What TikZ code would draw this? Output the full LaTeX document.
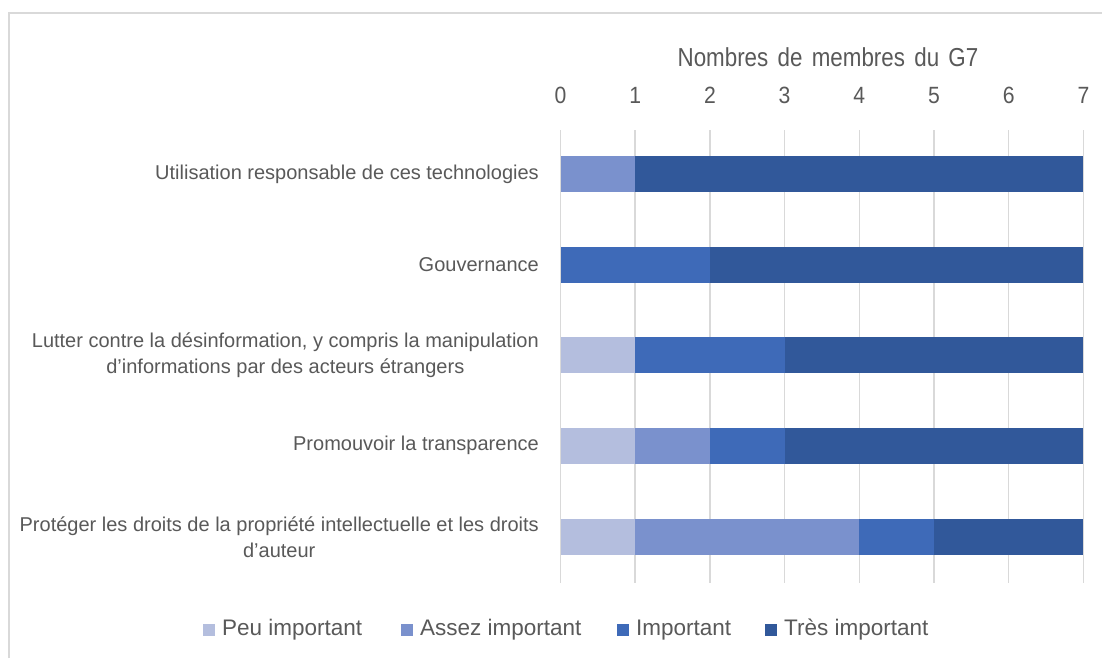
\documentclass[tikz,border=0pt]{standalone}
\usepackage{fontspec}
\setmainfont{Liberation Sans}
\newfontfamily\titlefont[FakeStretch=0.86,WordSpace=1.5]{Liberation Sans}
\newfontfamily\tickfont[FakeStretch=0.9]{Liberation Sans}
\definecolor{txt}{HTML}{595959}
\definecolor{grid}{HTML}{D9D9D9}
\definecolor{cpeu}{HTML}{B4BEDE}
\definecolor{cassez}{HTML}{7A91CD}
\definecolor{cimp}{HTML}{3E6AB8}
\definecolor{ctres}{HTML}{31589A}
\begin{document}
\begin{tikzpicture}[x=1pt,y=-1pt,
  catlabel/.style={anchor=east,align=center,text=txt,inner sep=0pt,
    font=\fontsize{20}{25.5}\selectfont},
  ticklabel/.style={anchor=base,text=txt,inner sep=0pt,font=\tickfont\fontsize{23.5}{27}\selectfont},
  legtext/.style={anchor=west,text=txt,inner sep=0pt,font=\fontsize{22.5}{27}\selectfont},
  gridline/.style={draw=grid,line width=1.5pt}]
\useasboundingbox (0,0) rectangle (1102,658);
\fill[white] (0,0) rectangle (1102,658);
% frame
\draw[draw=grid,line width=1.6pt] (9,658) -- (9,13) -- (1102,13);
% axis title
\node[text=txt,inner sep=0pt,font=\titlefont\fontsize{26}{30}\selectfont] (title) at (828,57) {Nombres de membres du G7};
% gridlines and tick labels
\def\xo{560.5}\def\ux{74.7}
\foreach \i in {0,...,7}{
  \draw[gridline] ({\xo+\i*\ux},130) -- ({\xo+\i*\ux},583);
  \node[ticklabel] (tick\i) at ({\xo+\i*\ux},103.3) {\i};
}
% bars: \drawseg{center y}{start}{end}{colour}
\newcommand{\drawseg}[4]{\fill[#4] ({\xo+#2*\ux},{#1-18}) rectangle ({\xo+#3*\ux},{#1+18});}
% 1
\drawseg{173.7}{0}{1}{cassez}
\drawseg{173.7}{1}{7}{ctres}
% 2
\drawseg{264.5}{0}{2}{cimp}
\drawseg{264.5}{2}{7}{ctres}
% 3
\drawseg{355}{0}{1}{cpeu}
\drawseg{355}{1}{3}{cimp}
\drawseg{355}{3}{7}{ctres}
% 4
\drawseg{445.5}{0}{1}{cpeu}
\drawseg{445.5}{1}{2}{cassez}
\drawseg{445.5}{2}{3}{cimp}
\drawseg{445.5}{3}{7}{ctres}
% 5
\drawseg{537}{0}{1}{cpeu}
\drawseg{537}{1}{4}{cassez}
\drawseg{537}{4}{5}{cimp}
\drawseg{537}{5}{7}{ctres}
% category labels
\node[catlabel] (c1) at (539,174) {Utilisation responsable de ces technologies};
\node[catlabel] (c2) at (539,264.5) {Gouvernance};
\node[catlabel] (c3) at (539,355) {Lutter contre la désinformation, y compris la manipulation\\d’informations par des acteurs étrangers};
\node[catlabel] (c4) at (539,445.5) {Promouvoir la transparence};
\node[catlabel] (c5) at (539,537) {Protéger les droits de la propriété intellectuelle et les droits\\d’auteur};
% legend
\fill[cpeu] (203,624) rectangle (215,636);
\node[legtext] (l1) at (222,630) {Peu important};
\fill[cassez] (401,624) rectangle (413,636);
\node[legtext] (l2) at (420,630) {Assez important};
\fill[cimp] (617,624) rectangle (629,636);
\node[legtext] (l3) at (636,630) {Important};
\fill[ctres] (765,624) rectangle (777,636);
\node[legtext] (l4) at (784,630) {Très important};
\end{tikzpicture}
\end{document}
